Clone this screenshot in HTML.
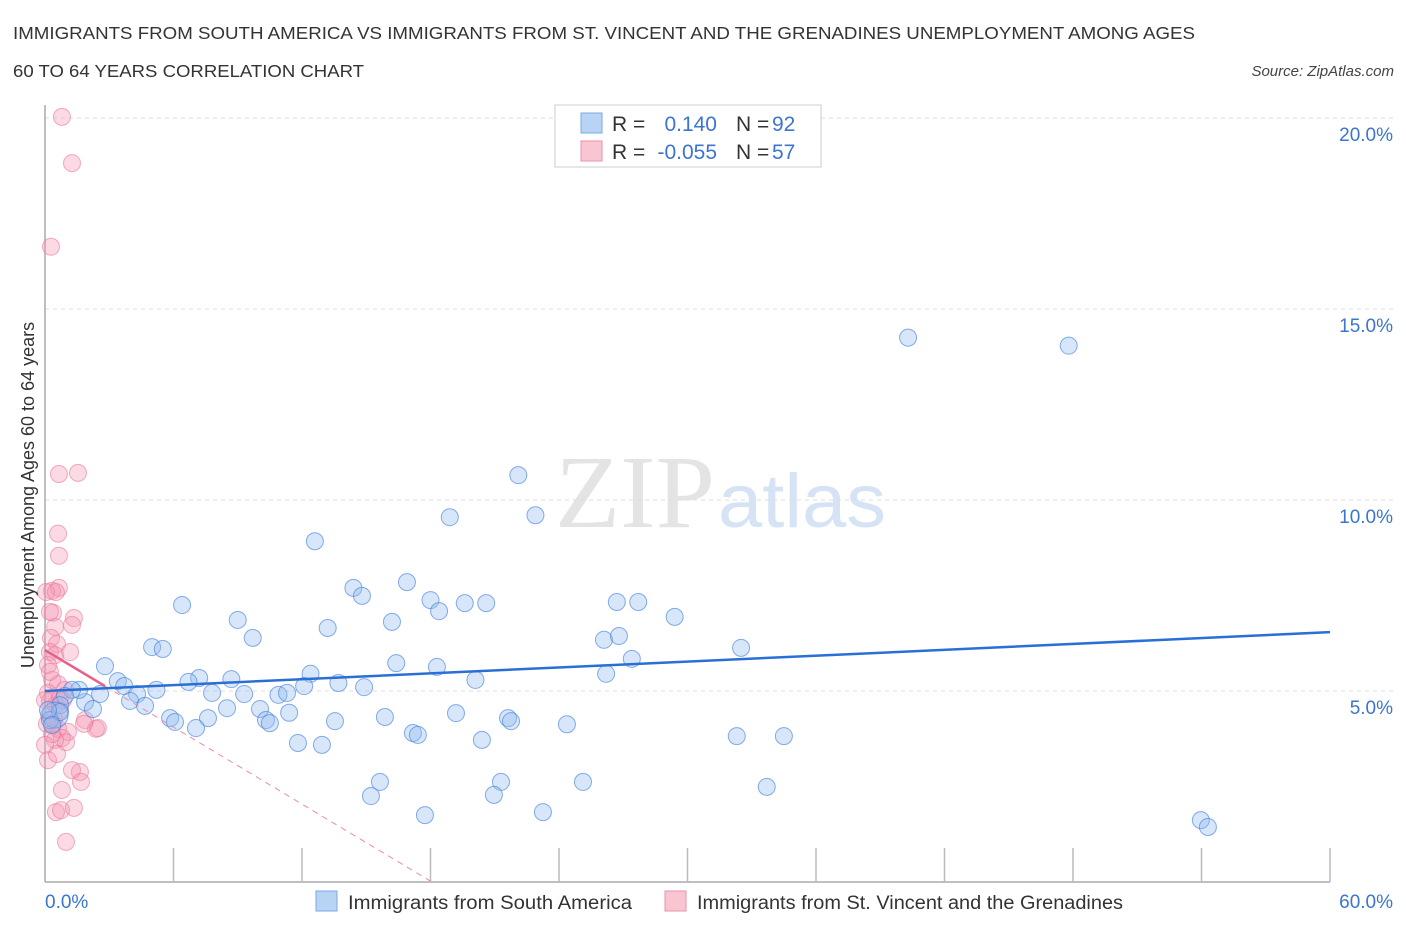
<!DOCTYPE html>
<html><head><meta charset="utf-8"><style>
body{margin:0;background:#fff;font-family:"Liberation Sans",sans-serif;}
svg{display:block}
</style></head><body>
<svg id="chart" width="1406" height="930" xmlns="http://www.w3.org/2000/svg">
<text x="13" y="39" font-size="17.5" fill="#333" textLength="1182" lengthAdjust="spacingAndGlyphs">IMMIGRANTS FROM SOUTH AMERICA VS IMMIGRANTS FROM ST. VINCENT AND THE GRENADINES UNEMPLOYMENT AMONG AGES</text>
<text x="13" y="77" font-size="17.5" fill="#333" textLength="351" lengthAdjust="spacingAndGlyphs">60 TO 64 YEARS CORRELATION CHART</text>
<text x="1394" y="76" font-size="15" font-style="italic" fill="#444" text-anchor="end">Source: ZipAtlas.com</text>
<text x="635" y="527" font-size="104" font-family="Liberation Serif,serif" fill="#e4e4e4" text-anchor="middle" textLength="160" lengthAdjust="spacingAndGlyphs">ZIP</text>
<text x="802" y="527" font-size="76" fill="#d6e3f5" text-anchor="middle" textLength="168" lengthAdjust="spacingAndGlyphs">atlas</text>
<g id="grid"></g>
<g id="marks"></g>
<text transform="translate(34,495) rotate(-90)" font-size="18" fill="#333" text-anchor="middle">Unemployment Among Ages 60 to 64 years</text>
<g>
<rect x="555" y="105" width="266" height="62" fill="#fff" stroke="#ccc"/>
<rect x="581" y="113" width="21" height="20" fill="#b9d3f5" stroke="#7aa8e8"/>
<rect x="581" y="141" width="21" height="20" fill="#f9c5d3" stroke="#ee8fab"/>
<text x="612" y="131" font-size="21" fill="#333">R =</text><text x="717" y="131" font-size="21" fill="#3b75d0" text-anchor="end">0.140</text>
<text x="736" y="131" font-size="21" fill="#333">N =</text><text x="772" y="131" font-size="21" fill="#3b75d0">92</text>
<text x="612" y="159" font-size="21" fill="#333">R =</text><text x="717" y="159" font-size="21" fill="#3b75d0" text-anchor="end">-0.055</text>
<text x="736" y="159" font-size="21" fill="#333">N =</text><text x="772" y="159" font-size="21" fill="#3b75d0">57</text>
</g>
<g>
<rect x="316" y="891" width="21" height="20" fill="#b9d3f5" stroke="#7aa8e8"/>
<text x="348" y="909" font-size="19" fill="#333" textLength="284" lengthAdjust="spacingAndGlyphs">Immigrants from South America</text>
<rect x="665" y="891" width="21" height="20" fill="#f9c5d3" stroke="#ee8fab"/>
<text x="697" y="909" font-size="19" fill="#333" textLength="426" lengthAdjust="spacingAndGlyphs">Immigrants from St. Vincent and the Grenadines</text>
</g>
</svg>
<script>
const yTicks=[5,10,15,20];
const yTickLabels=["5.0%","10.0%","15.0%","20.0%"];
const xTickLabels=["0.0%","60.0%"];
const blueX=[40.3,47.8,22.1,18.9,22.9,12.6,16.9,14.4,14.8,6.4,18,19.6,20.6,18.4,26.7,27.7,29.4,9,16.2,13.2,9.7,26.1,26.8,5,5.5,32.5,16.4,27.4,18.3,2.8,12.4,7.2,8.7,12.1,13.7,6.7,3.4,3.7,20.1,26.2,14.9,5.2,7.8,9.3,10.9,11.3,4.3,3.97,10.04,11.4,8.5,4.67,2.57,1.87,2.24,1.59,1.26,0.93,0.7,0.47,0.23,5.84,6.07,7.61,10.32,10.5,13.54,15.87,19.19,21.62,21.76,24.37,7.05,17.18,17.41,11.81,12.93,20.4,32.3,34.5,15.64,21.29,25.12,15.22,20.96,33.7,17.74,23.25,53.97,54.3,0.7,0.14,0.33];
const blueY=[14.25,14.04,10.65,9.55,9.6,8.92,7.85,7.7,7.49,7.25,7.38,7.3,7.3,7.09,7.33,7.33,6.94,6.86,6.81,6.65,6.39,6.34,6.44,6.15,6.1,6.13,5.73,5.84,5.63,5.65,5.45,5.34,5.31,5.13,5.21,5.24,5.26,5.13,5.29,5.45,5.1,5.03,4.95,4.92,4.9,4.95,4.92,4.74,4.53,4.43,4.55,4.61,4.92,4.71,4.53,5.03,5.03,4.87,4.63,4.37,4.24,4.29,4.19,4.29,4.24,4.16,4.21,4.32,4.42,4.29,4.21,4.13,4.03,3.9,3.85,3.64,3.59,3.72,3.82,3.82,2.62,2.62,2.62,2.25,2.28,2.49,1.75,1.83,1.62,1.44,4.45,4.5,4.11];
const pinkX=[0.79,1.26,0.28,0.65,1.54,0.61,0.65,0.65,0.33,0.37,1.35,1.26,0.47,0.28,0.56,0.23,0.47,0.14,0.33,0.61,0.93,0.14,0.23,0.51,0.7,0.19,0.42,0.37,0.61,1.07,0.79,0.98,2.38,2.47,1.87,1.63,1.26,1.68,0.79,0.51,0.75,1.35,0.98,0.14,0.47,0.23,0,0.7,0.84,0.09,0.33,0.56,0,0.23,0.05,1.17,1.82,0.51];
const pinkY=[20.03,18.82,16.63,10.68,10.71,9.12,8.54,7.7,7.62,7.05,6.91,6.73,6.68,6.39,6.23,6.02,5.94,5.68,5.29,5.18,5.03,4.95,4.74,4.63,4.5,4.37,4.27,4.14,4.01,3.93,3.77,3.66,4.01,4.03,4.24,2.88,2.93,2.62,2.41,1.83,1.88,1.94,1.05,3.19,3.72,5.5,4.76,4.82,4.76,4.14,3.87,3.35,3.59,7.07,7.59,6.02,4.14,7.59];
const blueTrend=[5.0,6.54];
const pinkTrend=[6.07,-0.336];

const NS="http://www.w3.org/2000/svg";
const X0=45,X1=1330,Y0=882,YS=38.2;
function sx(v){return X0+v*(X1-X0)/60;}
function sy(v){return Y0-v*YS;}
function mk(tag,attrs,parent){const e=document.createElementNS(NS,tag);for(const k in attrs)e.setAttribute(k,attrs[k]);parent.appendChild(e);return e;}
const grid=document.getElementById('grid'),marks=document.getElementById('marks');
yTicks.forEach((t,i)=>{
 const l=mk('line',{x1:X0,x2:1393,y1:sy(t),y2:sy(t),stroke:'#ddd','stroke-dasharray':'4,4'},grid);
 
 
 const tx=mk('text',{x:1393,y:sy(t)+23,'font-size':19,fill:'#3b75d0','text-anchor':'end'},grid);
 tx.textContent=yTickLabels[i];
 
 
});
const ax=mk('line',{x1:X0,x2:X0,y1:105,y2:Y0,stroke:'#aaa','stroke-width':1.5},grid);


const bx=mk('line',{x1:X0,x2:X1,y1:Y0,y2:Y0,stroke:'#aaa','stroke-width':1.5},grid);


for(let i=1;i<=10;i++){const v=i*6;const t=mk('line',{x1:sx(v),x2:sx(v),y1:Y0-34,y2:Y0,stroke:'#bbb','stroke-width':1.5},grid);
 
 }
[[0,'start',45],[60,'end',1393]].forEach((d,i)=>{const t=mk('text',{x:d[2],y:908,'font-size':19,fill:'#3b75d0','text-anchor':d[1]},grid);t.textContent=xTickLabels[i];
 
 });
pinkX.forEach((x,i)=>{const c=mk('circle',{cx:sx(x),cy:sy(pinkY[i]),r:8.5,fill:'rgba(244,150,178,0.35)',stroke:'rgba(235,120,155,0.6)','stroke-width':1},marks);
 
 });
blueX.forEach((x,i)=>{const c=mk('circle',{cx:sx(x),cy:sy(blueY[i]),r:i==59?13:8.5,fill:'rgba(150,190,240,0.38)',stroke:'rgba(70,130,220,0.65)','stroke-width':1},marks);
 
 });
const zx=pinkTrend[0]/-pinkTrend[1];
const pd=mk('line',{x1:sx(2.8),y1:sy(pinkTrend[0]+pinkTrend[1]*2.8),x2:sx(zx),y2:sy(0),stroke:'#ef8aa8','stroke-width':1,'stroke-dasharray':'6,5'},marks);


const ps=mk('line',{x1:sx(0),y1:sy(pinkTrend[0]),x2:sx(2.8),y2:sy(pinkTrend[0]+pinkTrend[1]*2.8),stroke:'#e8608a','stroke-width':2.5},marks);


const bl=mk('line',{x1:sx(0),y1:sy(blueTrend[0]),x2:sx(60),y2:sy(blueTrend[1]),stroke:'#2a6fd6','stroke-width':2.5},marks);


</script>
</body></html>
